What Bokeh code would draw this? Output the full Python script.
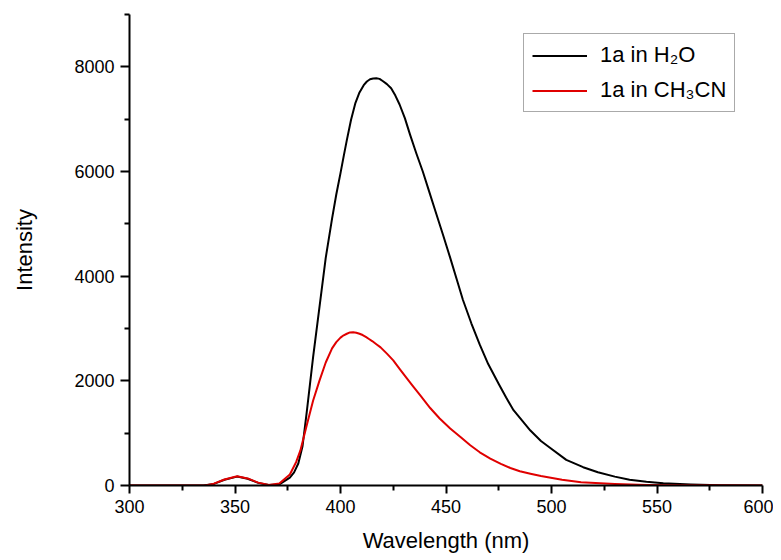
from bokeh.plotting import figure
from bokeh.models import FixedTicker, Legend, LegendItem, Range1d
from bokeh.embed import file_html
from bokeh.resources import INLINE

# Wavelength (nm) and intensity
h2o_wl = [300, 335, 340, 345, 351, 356, 361, 366, 371, 376, 378, 380, 382, 384, 387,
          390, 393, 396, 398, 400, 401.5, 403, 405, 407, 409, 411, 412.5, 414, 415.5,
          417, 418.5, 420, 422, 424, 426, 428, 430.5, 433, 436, 439, 442, 445,
          448.5, 452, 455, 458, 462, 466, 470, 475, 478.5, 482, 490, 495, 498, 507,
          515, 522, 530, 537, 545, 553, 566, 580, 600]
h2o_int = [0, 0, 30, 110, 170, 130, 50, 10, 20, 150, 250, 420, 750, 1400, 2450,
           3400, 4350, 5100, 5560, 5970, 6290, 6600, 6990, 7300, 7510, 7650, 7720, 7762, 7778,
           7780, 7770, 7730, 7670, 7590, 7450, 7280, 7020, 6700, 6340, 6000, 5620, 5240,
           4800, 4350, 3950, 3550, 3100, 2690, 2320, 1940, 1680, 1440, 1050, 850, 760, 490,
           350, 254, 170, 110, 70, 45, 20, 5, 0]

ch3cn_wl = [300, 336, 340, 345, 351, 356, 361, 366, 371, 376, 379, 381, 384, 387,
            390, 393, 396, 398, 400, 401.5, 403, 404.5, 406, 407.5, 409, 410.5, 412,
            413.5, 415, 417, 419, 422, 425, 428, 431, 434.5, 438, 442.5, 447, 452, 457,
            461.5, 466, 471, 476, 480.5, 485, 490, 495, 505, 514, 530, 545, 560, 600]
ch3cn_int = [0, 0, 35, 115, 175, 135, 55, 12, 40, 210, 450, 670, 1150, 1620,
             2000, 2350, 2620, 2740, 2825, 2870, 2900, 2925, 2930, 2920, 2900, 2875, 2840,
             2800, 2760, 2700, 2640, 2520, 2390, 2230, 2070, 1890, 1714, 1480, 1280, 1090, 920,
             770, 635, 515, 413, 335, 273, 225, 180, 110, 63, 30, 10, 3, 0]

x_ticks = [300, 350, 400, 450, 500, 550, 600]
x_minor = [325, 375, 425, 475, 525, 575]
y_ticks = [0, 2000, 4000, 6000, 8000]
y_minor = [1000, 3000, 5000, 7000, 9000]

labels = ["1a in H\u2082O", "1a in CH\u2083CN"]

FONT = "Liberation Sans"

p = figure(frame_width=633, frame_height=471, output_backend="svg", toolbar_location=None,
           x_range=Range1d(300, 600), y_range=Range1d(0, 9000),
           min_border_left=129, min_border_right=11, min_border_top=14, min_border_bottom=67)
p.background_fill_color = "white"
p.border_fill_color = "white"
p.outline_line_color = None
p.xgrid.visible = False
p.ygrid.visible = False

r1 = p.line(h2o_wl, h2o_int, line_color="black", line_width=2, line_join="round")
r2 = p.line(ch3cn_wl, ch3cn_int, line_color="#e00000", line_width=2, line_join="round")

for ax in (p.xaxis[0], p.yaxis[0]):
    ax.axis_line_width = 2
    ax.major_tick_line_width = 2
    ax.minor_tick_line_width = 2
    ax.major_tick_in = 0
    ax.minor_tick_in = 0
    ax.major_label_text_font = FONT
    ax.major_label_text_font_size = "18px"
    ax.major_label_text_color = "black"
    ax.axis_label_text_font = FONT
    ax.axis_label_text_font_size = "22px"
    ax.axis_label_text_font_style = "normal"
    ax.axis_label_text_color = "black"

p.xaxis.ticker = FixedTicker(ticks=x_ticks, minor_ticks=x_minor)
p.yaxis.ticker = FixedTicker(ticks=y_ticks, minor_ticks=y_minor)
p.xaxis.major_tick_out = 8
p.xaxis.minor_tick_out = 5
p.yaxis.major_tick_out = 9
p.yaxis.minor_tick_out = 5
p.xaxis.major_label_standoff = 6
p.yaxis.major_label_standoff = 6
p.xaxis.axis_label = "Wavelength (nm)"
p.yaxis.axis_label = "Intensity"
p.xaxis.axis_label_standoff = 12
p.yaxis.axis_label_standoff = 34

legend = Legend(items=[LegendItem(label=labels[0], renderers=[r1]),
                       LegendItem(label=labels[1], renderers=[r2])],
                location=(394, 373))
legend.border_line_color = "#555555"
legend.border_line_width = 1
legend.background_fill_color = "white"
legend.label_text_font = FONT
legend.label_text_font_size = "22px"
legend.label_text_color = "black"
legend.glyph_width = 55
legend.label_standoff = 13
legend.padding = 8
legend.spacing = 9
legend.label_height = 25
legend.glyph_height = 25
legend.margin = 0
p.add_layout(legend, "center")

open("out.html", "w").write(file_html(p, INLINE))
